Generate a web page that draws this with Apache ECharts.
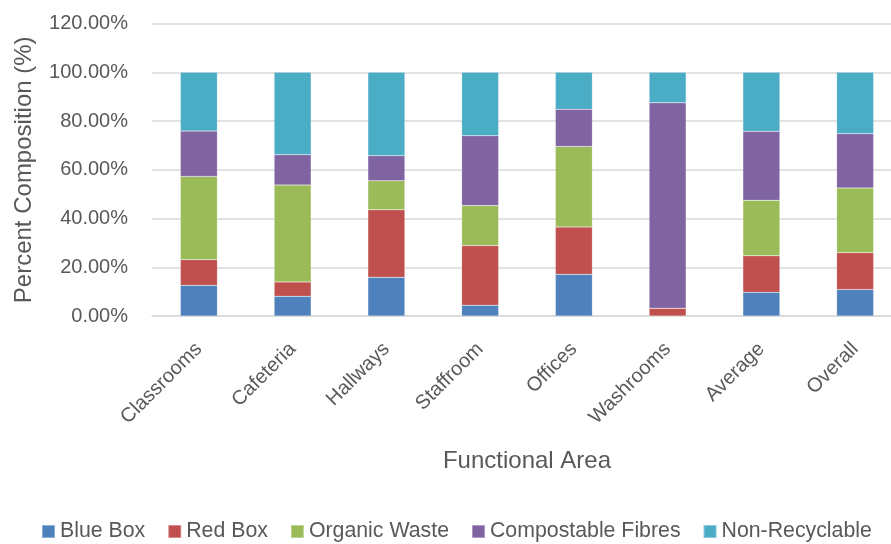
<!DOCTYPE html>
<html>
<head>
<meta charset="utf-8">
<style>
  html, body { margin: 0; padding: 0; background: #fff; }
  #chart { width: 891px; height: 544px; }
</style>
<script src="https://cdn.jsdelivr.net/npm/echarts@6/dist/echarts.min.js"></script>
</head>
<body>
<div id="chart"></div>
<script>
// Waste composition by functional area (percent of each stream)
const categories = ['Classrooms', 'Cafeteria', 'Hallways', 'Staffroom', 'Offices', 'Washrooms', 'Average', 'Overall'];
const blueBox          = [12.6,  8.1, 15.9,  4.4, 17.1,  0.0,  9.7, 10.9];
const redBox           = [10.5,  5.9, 27.7, 24.5, 19.4,  3.2, 15.0, 15.1];
const organicWaste     = [34.2, 39.8, 11.9, 16.4, 33.1,  0.0, 22.8, 26.5];
const compostableFibres= [18.6, 12.4, 10.3, 28.7, 15.2, 84.3, 28.3, 22.3];
const nonRecyclable    = [24.1, 33.8, 34.2, 26.0, 15.2, 12.5, 24.2, 25.2];
const yTicks = [0, 20, 40, 60, 80, 100, 120];

const FONT = '"Liberation Sans", Arial, sans-serif';
const TEXT = '#595959';

const seriesDefs = [
  { name: 'Blue Box', data: blueBox, color: '#4F81BD' },
  { name: 'Red Box', data: redBox, color: '#C0504D' },
  { name: 'Organic Waste', data: organicWaste, color: '#9BBB59' },
  { name: 'Compostable Fibres', data: compostableFibres, color: '#8064A2' },
  { name: 'Non-Recyclable', data: nonRecyclable, color: '#4BACC6' }
];

const chart = echarts.init(document.getElementById('chart'), null, { renderer: 'canvas' });
chart.setOption({
  animation: false,
  backgroundColor: '#fff',
  textStyle: { fontFamily: FONT, color: TEXT },
  // plot area runs past the right edge of the canvas
  grid: { left: 152, width: 750, top: 23.6, bottom: 228, containLabel: false, outerBoundsMode: 'none' },
  legend: {
    data: seriesDefs.map(s => s.name),
    left: 41, top: 521, padding: 0,
    icon: 'rect', itemWidth: 13, itemHeight: 13, itemGap: 22,
    textStyle: { fontFamily: FONT, fontSize: 21.3, color: TEXT }
  },
  xAxis: {
    type: 'category',
    data: categories,
    name: 'Functional Area',
    nameLocation: 'middle',
    nameGap: 133,
    nameTextStyle: { fontFamily: FONT, fontSize: 24, color: TEXT },
    axisLine: { show: true, lineStyle: { color: '#D9D9D9', width: 1.5 } },
    axisTick: { show: false },
    axisLabel: { rotate: 45, margin: 30, fontFamily: FONT, fontSize: 20, color: TEXT, interval: 0 }
  },
  yAxis: {
    type: 'value',
    min: yTicks[0], max: yTicks[yTicks.length - 1], interval: yTicks[1] - yTicks[0],
    name: 'Percent Composition (%)',
    nameLocation: 'middle',
    nameGap: 116,
    nameTextStyle: { fontFamily: FONT, fontSize: 24, color: TEXT },
    axisLine: { show: false },
    axisTick: { show: false },
    axisLabel: { margin: 24, fontFamily: FONT, fontSize: 20, color: TEXT, formatter: v => v.toFixed(2) + '%' },
    splitLine: { show: true, lineStyle: { color: '#D9D9D9', width: 1.5 } }
  },
  series: seriesDefs.map(s => ({
    name: s.name,
    type: 'bar',
    stack: 'total',
    barWidth: 37,
    data: s.data,
    itemStyle: { color: s.color, borderColor: 'rgba(255,255,255,0.35)', borderWidth: 0.5 }
  }))
});
</script>
</body>
</html>
